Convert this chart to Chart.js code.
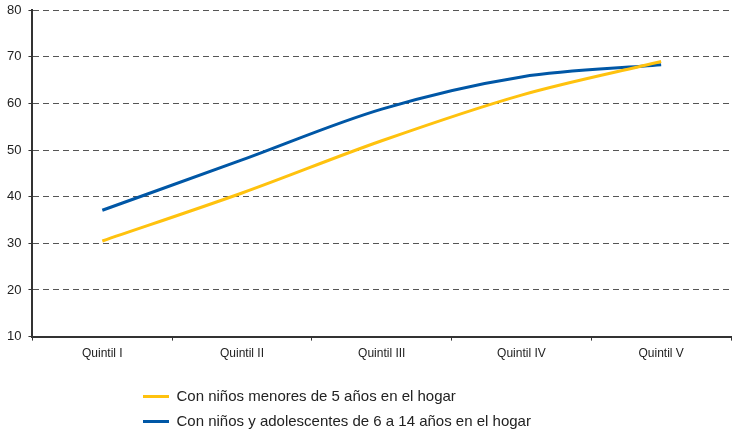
<!DOCTYPE html>
<html>
<head>
<meta charset="utf-8">
<script src="https://cdn.jsdelivr.net/npm/chart.js@4/dist/chart.umd.min.js"></script>
<style>
  html, body { margin: 0; padding: 0; background: #fff; }
  #wrap { width: 734px; height: 432px; }
</style>
</head>
<body>
<div id="wrap"><canvas id="quintilChart" width="734" height="432"></canvas></div>
<script>
const quintiles = ['Quintil I', 'Quintil II', 'Quintil III', 'Quintil IV', 'Quintil V'];
const menores5 = [30.5, 40.8, 52, 61.8, 69];
const de6a14 = [37.1, 47.9, 58.8, 65.7, 68.3];
const yTicks = [10, 20, 30, 40, 50, 60, 70, 80];

Chart.defaults.font.family = '"Liberation Sans", Arial, sans-serif';
Chart.defaults.color = '#222';

// legend: one item per row, both rows starting at the same left x
const legendShift = {
    id: 'legendShift',
    beforeLayout(chart) {
        const lg = chart.legend;
        if (lg && !lg._narrow) {
            const orig = lg.update.bind(lg);
            lg.update = (w, h, m) => {
                orig(Math.min(w, 470), h, m);
                lg.height += 5;
            };
            lg._narrow = true;
        }
    },
    afterLayout(chart) {
        const lg = chart.legend;
        lg.left += 133;
        lg.right = lg.left + 470;
        lg.top += 12;
        lg.bottom += 12;
    }
};

const ctx = document.getElementById('quintilChart').getContext('2d');
const quintilChart = new Chart(ctx, {
    type: 'line',
    data: {
        labels: quintiles,
        datasets: [
            {
                label: 'Con niños menores de 5 años en el hogar',
                data: menores5,
                borderColor: '#FFC20E',
                backgroundColor: '#FFC20E',
                borderWidth: 3,
                pointRadius: 0,
                cubicInterpolationMode: 'monotone',
                fill: false
            },
            {
                label: 'Con niños y adolescentes de 6 a 14 años en el hogar',
                data: de6a14,
                borderColor: '#0057A6',
                backgroundColor: '#0057A6',
                borderWidth: 3,
                pointRadius: 0,
                cubicInterpolationMode: 'monotone',
                fill: false
            }
        ]
    },
    options: {
        responsive: false,
        animation: false,
        layout: {
            padding: { top: 0, right: 3, left: 0, bottom: 0 }
        },
        plugins: {
            tooltip: { enabled: false },
            legend: {
                position: 'bottom',
                align: 'start',
                labels: {
                    usePointStyle: true,
                    pointStyle: 'line',
                    pointStyleWidth: 26,
                    boxWidth: 26,
                    padding: 10,
                    font: { size: 15 },
                    color: '#222'
                }
            }
        },
        scales: {
            x: {
                offset: true,
                grid: {
                    offset: true,
                    drawOnChartArea: false,
                    drawTicks: true,
                    tickLength: 4,
                    color: '#333'
                },
                border: { color: '#333', width: 2 },
                ticks: { font: { size: 12 }, color: '#222', padding: 6 }
            },
            y: {
                min: 10,
                max: 80,
                afterBuildTicks(scale) {
                    scale.ticks = yTicks.map(v => ({ value: v }));
                },
                grid: {
                    color: '#555',
                    tickLength: 4,
                    tickBorderDash: [],
                    tickColor: '#333'
                },
                border: { color: '#333', width: 2, dash: [6, 4] },
                ticks: { font: { size: 13, lineHeight: 0.5 }, color: '#222', padding: 7 }
            }
        }
    },
    plugins: [legendShift]
});
</script>
</body>
</html>
